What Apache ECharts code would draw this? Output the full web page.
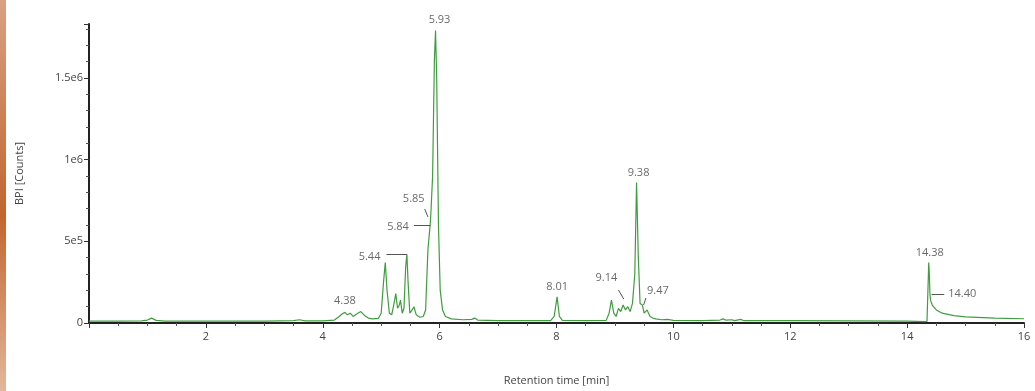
<!DOCTYPE html>
<html><head><meta charset="utf-8">
<script src="https://cdn.jsdelivr.net/npm/echarts@6/dist/echarts.min.js"></script>
<style>html,body{margin:0;padding:0;background:#fff}#c{width:1035px;height:391px}</style>
</head><body><div id="c"></div>
<script>
// Chromatogram trace (retention time in min, BPI counts)
const times = [0.0,0.5,0.9,1.0,1.07,1.15,1.3,2.0,2.5,3.0,3.5,3.6,3.7,4.0,4.2,4.28,4.33,4.38,4.42,4.47,4.52,4.58,4.65,4.72,4.78,4.85,4.95,5.0,5.04,5.07,5.1,5.14,5.18,5.22,5.25,5.28,5.31,5.33,5.36,5.39,5.42,5.44,5.46,5.49,5.53,5.56,5.6,5.66,5.72,5.76,5.8,5.84,5.85,5.88,5.91,5.93,5.95,5.98,6.01,6.05,6.1,6.2,6.4,6.55,6.6,6.65,7.0,7.5,7.9,7.96,8.01,8.05,8.1,8.5,8.85,8.9,8.94,8.98,9.02,9.06,9.1,9.14,9.18,9.22,9.26,9.3,9.34,9.37,9.4,9.43,9.47,9.5,9.55,9.6,9.65,9.7,9.8,9.9,10.0,10.5,10.8,10.85,10.9,11.0,11.05,11.15,11.2,12.0,13.0,14.0,14.3,14.34,14.36,14.37,14.38,14.39,14.4,14.43,14.5,14.6,14.8,15.0,15.5,16.0];
const counts = [12000,12000,13000,18000,30000,16000,12000,11000,11000,12000,14000,20000,13000,13000,18000,40000,55000,65000,50000,60000,40000,55000,70000,45000,30000,25000,28000,60000,250000,370000,200000,60000,50000,120000,180000,90000,110000,140000,60000,90000,350000,420000,250000,60000,80000,100000,50000,35000,40000,80000,450000,610000,670000,900000,1600000,1790000,1500000,600000,200000,80000,40000,25000,20000,22000,30000,18000,15000,14000,15000,40000,160000,40000,16000,14000,16000,60000,140000,60000,40000,90000,70000,110000,80000,100000,70000,120000,300000,860000,400000,120000,110000,60000,80000,40000,30000,25000,20000,22000,16000,15000,18000,25000,17000,20000,15000,22000,15000,14000,13000,12000,9000,10000,250000,370000,300000,180000,140000,110000,80000,60000,45000,38000,30000,26000];

// Peak annotations (anchor time, anchor counts, text)
const annoTimes  = [5.93, 4.38, 5.09, 5.56, 5.745, 8.01, 9.06, 9.37, 9.53, 14.37, 14.635];
const annoCounts = [1790000, 65000, 420000, 600000, 698000, 160000, 202000, 860000, 153000, 370000, 177000];
const annoTexts  = ['5.93','4.38','5.44','5.84','5.85','8.01','9.14','9.38','9.47','14.38','14.40'];

// Leader lines (start time, start counts, end time, end counts)
const leaderStartT = [5.09, 5.56, 5.745, 9.06, 9.53, 14.42];
const leaderStartC = [420000, 600000, 698000, 202000, 153000, 177000];
const leaderEndT   = [5.44, 5.84, 5.80, 9.15, 9.49, 14.635];
const leaderEndC   = [420000, 600000, 649000, 147000, 110000, 177000];

const yTicks = {0:'0', 500000:'5e5', 1000000:'1e6', 1500000:'1.5e6'};

const labelLayout = [
  {position:'top', offset:[4,-1]},
  {position:'top', offset:[0,-2]},
  {position:'left', offset:[-2,2]},
  {position:'left', offset:[-1,2]},
  {position:'top', offset:[-11,-1]},
  {position:'top', offset:[0,0]},
  {position:'top', offset:[-12,-3]},
  {position:'top', offset:[2,0]},
  {position:'top', offset:[12,2]},
  {position:'top', offset:[1,0]},
  {position:'right', offset:[0,0]}
];

const chart = echarts.init(document.getElementById('c'), null, {renderer:'canvas'});
const font = '"Open Sans", "DejaVu Sans", sans-serif';
const trace = times.map((t,i)=>[t, counts[i]]);
const annos = annoTimes.map((t,i)=>({
  value:[t, annoCounts[i]],
  label:{show:true, formatter:annoTexts[i], position:labelLayout[i].position, offset:labelLayout[i].offset, distance:4}
}));
const leaders = leaderStartT.map((t,i)=>[{coord:[t, leaderStartC[i]]},{coord:[leaderEndT[i], leaderEndC[i]]}]);

chart.setOption({
  animation:false,
  grid:{left:89, right:11, top:24, bottom:68},
  graphic:[{
    type:'rect', left:0, top:0, shape:{x:0,y:0,width:6,height:391},
    style:{fill:new echarts.graphic.LinearGradient(0,0,0,1,[
      {offset:0,color:'#d8a283'},{offset:0.55,color:'#c2652f'},{offset:1,color:'#e2b79b'}])}
  }],
  xAxis:{
    type:'value', min:0, max:16, interval:2,
    name:'Retention time [min]', nameLocation:'middle', nameGap:52,
    nameTextStyle:{fontFamily:font, fontSize:11, color:'#444'},
    axisLine:{show:true, lineStyle:{color:'#222', width:2}},
    axisTick:{show:true, length:5, lineStyle:{color:'#333'}},
    minorTick:{show:true, splitNumber:4, length:3, lineStyle:{color:'#555'}},
    axisLabel:{showMinLabel:false, fontFamily:font, fontSize:11, color:'#444', margin:8},
    splitLine:{show:false}
  },
  yAxis:{
    type:'value', min:0, max:1830000, interval:500000,
    name:'BPI [Counts]', nameLocation:'middle', nameGap:64,
    nameTextStyle:{fontFamily:font, fontSize:11, color:'#444'},
    axisLine:{show:true, lineStyle:{color:'#222', width:2}},
    axisTick:{show:true, length:5, lineStyle:{color:'#333'}},
    minorTick:{show:true, splitNumber:5, length:3, lineStyle:{color:'#555'}},
    axisLabel:{showMaxLabel:false, fontFamily:font, fontSize:11, color:'#444', margin:6,
      formatter:v=>yTicks[v]!==undefined?yTicks[v]:''},
    splitLine:{show:false}
  },
  series:[
    {type:'line', data:trace, symbol:'none', lineStyle:{color:'#3f9d3f', width:1.2}, z:2},
    {type:'scatter', data:annos, symbolSize:0, z:3,
      label:{fontFamily:font, fontSize:11, color:'#444'},
      markLine:{silent:true, symbol:'none', label:{show:false},
        lineStyle:{color:'#555', width:1, type:'solid'}, data:leaders}}
  ]
});
</script></body></html>
